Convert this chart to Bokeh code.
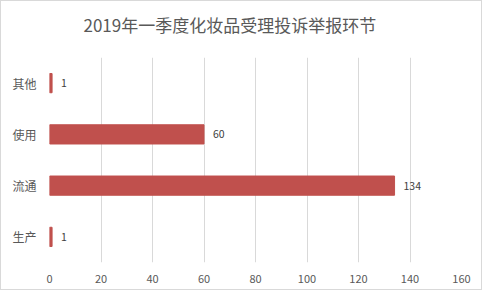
from bokeh.plotting import figure
from bokeh.models import ColumnDataSource, FixedTicker, Range1d, LabelSet, Title
from bokeh.embed import file_html
from bokeh.resources import INLINE
from bokeh.core.properties import value

categories = ["生产", "流通", "使用", "其他"]
counts = [1, 134, 60, 1]
x_ticks = [0, 20, 40, 60, 80, 100, 120, 140, 160]
title = "2019年一季度化妆品受理投诉举报环节"

src = ColumnDataSource(dict(cat=categories, val=counts, lbl=[str(v) for v in counts]))

p = figure(width=482, height=290, y_range=categories, x_range=Range1d(0, 160),
           output_backend="svg", toolbar_location=None, title_location=None,
           min_border_left=48, min_border_right=22, min_border_top=56, min_border_bottom=29)
p.styles = {"border": "1px solid #d9d9d9", "box-sizing": "border-box"}
p.hbar(y="cat", right="val", height=0.375, source=src, color="#C0504D")
labels = LabelSet(x="val", y="cat", text="lbl", source=src, x_offset=9, y_offset=0,
                  text_font_size="10.5px", text_color="#404040", text_baseline="middle",
                  text_font=value("Noto Sans CJK SC"))
p.add_layout(labels)

# spacer between the frame and the title, then the title itself
p.add_layout(Title(text=" ", text_font_size="2px", standoff=12), "above")
p.add_layout(Title(text=title, align="left", offset=34, standoff=10,
                   text_font="Noto Sans CJK SC", text_font_size="17px",
                   text_font_style="normal", text_color="#595959"), "above")

p.xaxis.ticker = FixedTicker(ticks=x_ticks)
p.xgrid.ticker = FixedTicker(ticks=x_ticks)
p.xgrid.grid_line_color = "#d9d9d9"
p.ygrid.grid_line_color = None
for ax in (p.xaxis[0], p.yaxis[0]):
    ax.axis_line_color = None
    ax.major_tick_line_color = None
    ax.minor_tick_line_color = None
    ax.major_label_text_font = "Noto Sans CJK SC"
    ax.major_label_text_color = "#595959"
p.yaxis.major_label_text_font_size = "12px"
p.xaxis.major_label_text_font_size = "11px"
p.yaxis.major_label_standoff = 7
p.xaxis.major_label_standoff = 6
p.outline_line_color = None
p.background_fill_color = "white"
p.border_fill_color = "white"
p.y_range.range_padding = 0

open("out.html", "w").write(file_html(p, INLINE))
